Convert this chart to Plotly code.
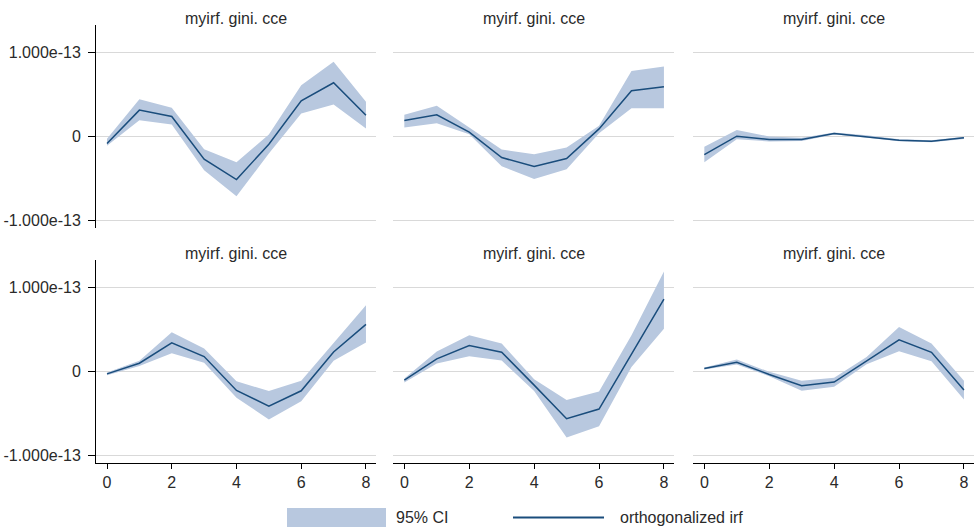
import numpy as np
import plotly.graph_objects as go

# Impulse-response horizon
steps = [0, 1, 2, 3, 4, 5, 6, 7, 8]
SCALE = 1e-13  # values below are in units of 1e-13

panel_titles = ["myirf. gini. cce"] * 6

# Orthogonalized IRF, one list per panel (row-major)
irf_1 = [-0.087, 0.31, 0.234, -0.274, -0.516, -0.095, 0.42, 0.635, 0.25]
irf_2 = [0.187, 0.254, 0.048, -0.254, -0.361, -0.266, 0.087, 0.54, 0.587]
irf_3 = [-0.218, 0.0, -0.04, -0.04, 0.032, -0.004, -0.048, -0.06, -0.02]
irf_4 = [-0.032, 0.095, 0.336, 0.174, -0.229, -0.415, -0.233, 0.229, 0.557]
irf_5 = [-0.107, 0.146, 0.304, 0.225, -0.166, -0.565, -0.45, 0.209, 0.858]
irf_6 = [0.032, 0.107, -0.04, -0.174, -0.13, 0.126, 0.372, 0.225, -0.225]

# 95% confidence bands
upper_1 = [-0.03, 0.44, 0.337, -0.155, -0.31, 0.02, 0.607, 0.885, 0.41]
lower_1 = [-0.115, 0.19, 0.139, -0.405, -0.714, -0.206, 0.27, 0.377, 0.091]
upper_2 = [0.254, 0.361, 0.103, -0.159, -0.214, -0.135, 0.123, 0.774, 0.829]
lower_2 = [0.103, 0.155, 0.024, -0.357, -0.508, -0.393, 0.036, 0.333, 0.333]
upper_3 = [-0.127, 0.075, -0.004, -0.02, 0.044, 0.012, -0.036, -0.048, -0.008]
lower_3 = [-0.31, -0.036, -0.063, -0.056, 0.02, -0.02, -0.06, -0.071, -0.032]
upper_4 = [-0.016, 0.123, 0.462, 0.269, -0.119, -0.237, -0.115, 0.328, 0.783]
lower_4 = [-0.047, 0.063, 0.213, 0.099, -0.316, -0.573, -0.356, 0.123, 0.34]
upper_5 = [-0.087, 0.233, 0.427, 0.328, -0.095, -0.344, -0.241, 0.427, 1.186]
lower_5 = [-0.134, 0.091, 0.178, 0.126, -0.237, -0.787, -0.656, 0.051, 0.506]
upper_6 = [0.043, 0.138, -0.008, -0.115, -0.079, 0.17, 0.526, 0.328, -0.115]
lower_6 = [0.02, 0.079, -0.059, -0.233, -0.186, 0.083, 0.237, 0.119, -0.336]

y_tick_vals = [-1e-13, 0, 1e-13]
y_tick_text = ["-1.000e-13", "0", "1.000e-13"]
x_tick_vals = [0, 2, 4, 6, 8]
legend_labels = ["95% CI", "orthogonalized irf"]

irfs = [irf_1, irf_2, irf_3, irf_4, irf_5, irf_6]
uppers = [upper_1, upper_2, upper_3, upper_4, upper_5, upper_6]
lowers = [lower_1, lower_2, lower_3, lower_4, lower_5, lower_6]

BAND = "#b8c8df"
LINE = "#1a4d7c"
GRID = "#d9d9d9"
TEXT = "#2a2a2a"
FONT = "Liberation Sans, Arial, sans-serif"
FS = 16

W, H = 978, 530
col_dom = [[96 / W, 376 / W], [393.3 / W, 674 / W], [693.3 / W, 974 / W]]
row_top_px = [25, 260]
row_dom = [[1 - 227.7 / H, 1 - 25 / H], [1 - 462.7 / H, 1 - 260 / H]]
x_range = [-0.34, 8.31]
y_range = [-1.088e-13, 1.322e-13]

fig = go.Figure()
layout = {}
annotations = []

for i in range(6):
    r, c = divmod(i, 3)
    n = i + 1
    xa = "x" if n == 1 else f"x{n}"
    ya = "y" if n == 1 else f"y{n}"
    up = np.array(uppers[i]) * SCALE
    lo = np.array(lowers[i]) * SCALE
    mid = np.array(irfs[i]) * SCALE

    fig.add_trace(go.Scatter(
        x=steps + steps[::-1], y=list(up) + list(lo[::-1]),
        fill="toself", fillcolor=BAND, line=dict(width=0),
        mode="lines", hoverinfo="skip", showlegend=False,
        xaxis=xa, yaxis=ya))
    fig.add_trace(go.Scatter(
        x=steps, y=mid, mode="lines",
        line=dict(color=LINE, width=1.5),
        showlegend=False, xaxis=xa, yaxis=ya))

    bottom = r == 1
    left = c == 0
    layout["xaxis" if n == 1 else f"xaxis{n}"] = dict(
        domain=col_dom[c], range=x_range, anchor=ya,
        showgrid=False, zeroline=False,
        showline=bottom, linecolor="#000", linewidth=1,
        tickvals=x_tick_vals if bottom else [],
        showticklabels=bottom,
        ticks="outside" if bottom else "", ticklen=5, tickcolor="#000",
        tickfont=dict(family=FONT, size=FS, color=TEXT))
    layout["yaxis" if n == 1 else f"yaxis{n}"] = dict(
        domain=row_dom[r], range=y_range, anchor=xa,
        showgrid=True, gridcolor=GRID, gridwidth=1, zeroline=False,
        showline=left, linecolor="#000", linewidth=1,
        tickvals=y_tick_vals, ticktext=y_tick_text,
        showticklabels=left,
        ticks="outside" if left else "", ticklen=7, tickcolor="#000",
        ticklabelstandoff=4,
        tickfont=dict(family=FONT, size=FS, color=TEXT))

    annotations.append(dict(
        text=panel_titles[i], xref="paper", yref="paper",
        x=(col_dom[c][0] + col_dom[c][1]) / 2,
        y=1 - (row_top_px[r] - 6.5) / H,
        xanchor="center", yanchor="middle", showarrow=False,
        font=dict(family=FONT, size=FS, color=TEXT)))

# Legend row beneath the panels
shapes = [
    dict(type="rect", xref="paper", yref="paper",
         x0=287 / W, x1=386 / W, y0=1 - 527 / H, y1=1 - 508 / H,
         fillcolor=BAND, line=dict(width=0)),
    dict(type="line", xref="paper", yref="paper",
         x0=513 / W, x1=604 / W, y0=1 - 517.5 / H, y1=1 - 517.5 / H,
         line=dict(color=LINE, width=2)),
]
annotations.append(dict(text=legend_labels[0], xref="paper", yref="paper",
                        x=394 / W, y=1 - 517.5 / H, xanchor="left", yanchor="middle",
                        showarrow=False, font=dict(family=FONT, size=FS, color=TEXT)))
annotations.append(dict(text=legend_labels[1], xref="paper", yref="paper",
                        x=618 / W, y=1 - 517.5 / H, xanchor="left", yanchor="middle",
                        showarrow=False, font=dict(family=FONT, size=FS, color=TEXT)))

fig.update_layout(
    width=W, height=H, margin=dict(l=0, r=0, t=0, b=0),
    paper_bgcolor="white", plot_bgcolor="white",
    showlegend=False, annotations=annotations, shapes=shapes,
    **layout)

fig.write_html("out.html")
